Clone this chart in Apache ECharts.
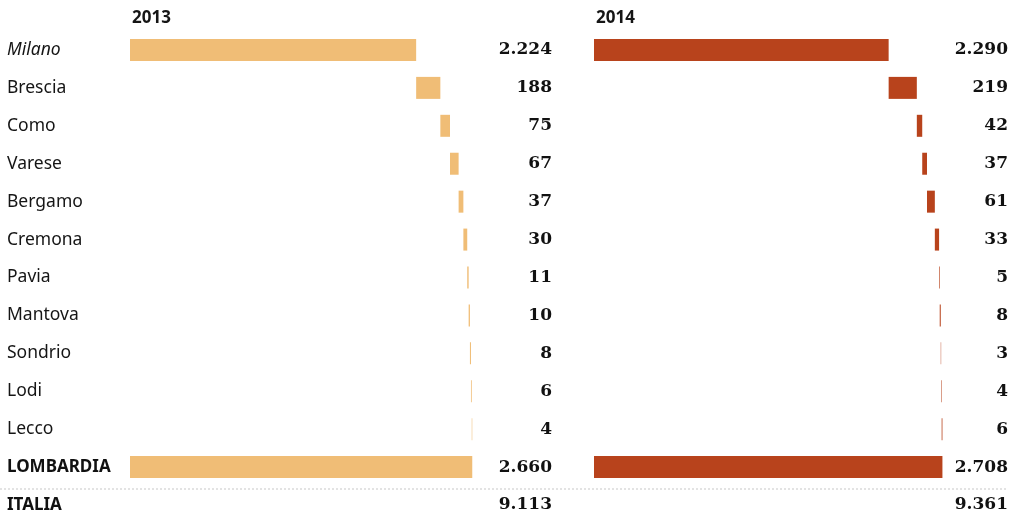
<!DOCTYPE html>
<html><head><meta charset="utf-8">
<script src="https://cdn.jsdelivr.net/npm/echarts@6/dist/echarts.min.js"></script>
<style>html,body{margin:0;padding:0;background:#fff}#c{width:1011px;height:524px}</style>
</head><body><div id="c"></div>
<script>
const categories = ['Milano','Brescia','Como','Varese','Bergamo','Cremona','Pavia','Mantova','Sondrio','Lodi','Lecco','LOMBARDIA','ITALIA'];
const provinces2013 = [2224,188,75,67,37,30,11,10,8,6,4];
const provinces2014 = [2290,219,42,37,61,33,5,8,3,4,6];
const lombardia2013 = 2660, lombardia2014 = 2708;
const italia2013 = 9113, italia2014 = 9361;
const years = ['2013','2014'];

function fmt(v){ return String(v).replace(/\B(?=(\d{3})+(?!\d))/g,'.'); }
function waterfall(prov, tot){
  const base=[], val=[]; let acc=0;
  prov.forEach(v=>{ base.push(acc); val.push(v); acc+=v; });
  base.push(0); val.push(tot);
  base.push('-'); val.push('-');
  return {base,val};
}
const w13 = waterfall(provinces2013, lombardia2013);
const w14 = waterfall(provinces2014, lombardia2014);
const labels13 = provinces2013.concat([lombardia2013, italia2013]).map(fmt);
const labels14 = provinces2014.concat([lombardia2014, italia2014]).map(fmt);

const chart = echarts.init(document.getElementById('c'), null, {renderer:'canvas'});
const catFont = {fontFamily:'Noto Sans', fontSize:17.5, color:'#151515'};
const valFont = {fontFamily:'DejaVu Serif', fontWeight:'bold', fontSize:17, color:'#111'};
const gridTop = 31, gridH = 494;
const hidden = {show:false};
function valueAxis(gi){ return {type:'value', gridIndex:gi, min:0, max:3000, show:false}; }
function rightAxis(gi, labels, margin){
  return {type:'category', gridIndex:gi, data:labels, inverse:true, position:'right',
    axisLine:hidden, axisTick:hidden, splitLine:hidden,
    axisLabel:Object.assign({margin:margin, align:'right'}, valFont)};
}
const titleStyle = {fontFamily:'Noto Sans', fontWeight:'bold', fontSize:17, color:'#151515'};
const option = {
  animation:false,
  backgroundColor:'#fff',
  title:[
    {text:years[0], left:127, top:5, textStyle:titleStyle},
    {text:years[1], left:591, top:5, textStyle:titleStyle}
  ],
  grid:[
    {left:130, top:gridTop, width:386, height:gridH},
    {left:594, top:gridTop, width:386, height:gridH}
  ],
  xAxis:[valueAxis(0), valueAxis(1)],
  yAxis:[
    {type:'category', gridIndex:0, data:categories, inverse:true, position:'left',
      axisLine:hidden, axisTick:hidden,
      axisLabel:Object.assign({margin:123, align:'left',
        formatter:v => v==='Milano' ? '{it|'+v+'}' : (v===v.toUpperCase() ? '{b|'+v+'}' : v),
        rich:{it:{fontStyle:'italic', fontFamily:'Noto Sans', fontSize:17.5, color:'#151515'},
              b:{fontWeight:'bold', fontFamily:'Noto Sans', fontSize:17, color:'#111'}}}, catFont)},
    rightAxis(0, labels13, 36),
    {type:'category', gridIndex:1, data:categories, inverse:true, show:false},
    rightAxis(1, labels14, 28)
  ],
  series:[
    {type:'bar', xAxisIndex:0, yAxisIndex:0, stack:'a', data:w13.base, barWidth:22, itemStyle:{color:'transparent'}, silent:true},
    {type:'bar', xAxisIndex:0, yAxisIndex:0, stack:'a', data:w13.val, barWidth:22, itemStyle:{color:'#F0BD76'}},
    {type:'bar', xAxisIndex:1, yAxisIndex:2, stack:'b', data:w14.base, barWidth:22, itemStyle:{color:'transparent'}, silent:true},
    {type:'bar', xAxisIndex:1, yAxisIndex:2, stack:'b', data:w14.val, barWidth:22, itemStyle:{color:'#B8431C'}}
  ],
  graphic:[
    {type:'line', shape:{x1:0, y1:489, x2:1008, y2:489}, style:{stroke:'#c8c8c8', lineWidth:1, lineDash:[2,2]}}
  ]
};
chart.setOption(option);
</script></body></html>
